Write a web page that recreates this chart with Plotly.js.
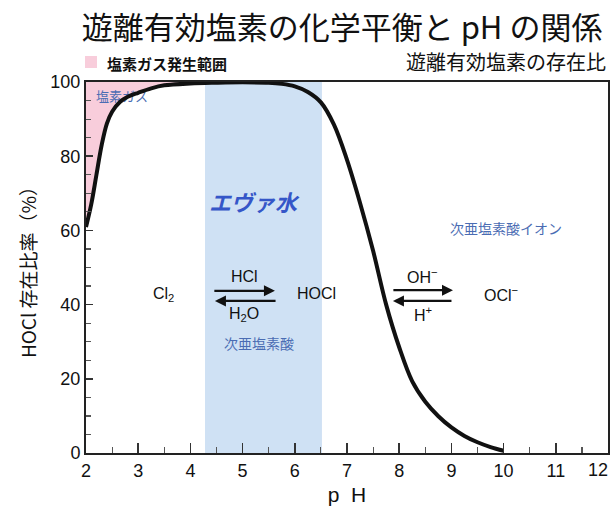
<!DOCTYPE html>
<html>
<head>
<meta charset="utf-8">
<script src="https://cdn.plot.ly/plotly-3.0.1.min.js"></script>
<style>html,body{margin:0;padding:0;background:#fff;}#chart{width:613px;height:518px;}</style>
</head>
<body>
<div id="chart"></div>
<script>
// ---- data ----
const phVals  = [2.0, 2.1, 2.2, 2.3, 2.4, 2.5, 2.65, 2.8, 3.0, 3.25, 3.5, 4.0, 4.5, 5.0, 5.5, 5.75, 6.0, 6.25, 6.5, 6.75, 7.0, 7.25, 7.5, 7.75, 8.0, 8.25, 8.5, 8.75, 9.0, 9.25, 9.5, 9.75, 10.0];
const hoclPct = [60.9, 67.0, 75.0, 83.0, 88.8, 92.0, 94.6, 96.0, 97.1, 98.3, 99.1, 99.6, 99.8, 99.9, 99.8, 99.5, 98.8, 97.3, 94.5, 88.5, 79.0, 67.4, 54.5, 40.0, 28.5, 19.3, 13.8, 9.9, 6.9, 4.6, 2.9, 1.6, 0.6];
const gasEndPh = 4.0;               // chlorine-gas region ends where curve reaches top
const evaBand = [4.28, 6.52];       // エヴァ水 pH band
const xTickVals = [2, 3, 4, 5, 6, 7, 8, 9, 10, 11, 12];
const xTickLabels = ["2", "3", "4", "5", "6", "7", "8", "9", "10", "11", "12"];
const yTickVals = [0, 20, 40, 60, 80, 100];
const yTickLabels = ["0", "20", "40", "60", "80", "100"];

const titleText = "遊離有効塩素の化学平衡と pH の関係";
const subtitleText = "遊離有効塩素の存在比";
const gasLegend = "塩素ガス発生範囲";
const yTitle = "HOCl 存在比率（%）";
const xTitle = "p\u00a0\u00a0H";

const SANS = "'Liberation Sans', Arial, 'Noto Sans CJK JP', sans-serif";
const CJK = "'Noto Sans CJK JP', 'Liberation Sans', sans-serif";
const BLUE = "#4a6cb3";
const PINK = "#f8cddb";

// pink region polygon: from curve up to 100
const pinkX = [], pinkY = [];
for (let i = 0; i < phVals.length; i++) {
  if (phVals[i] <= gasEndPh) { pinkX.push(phVals[i]); pinkY.push(hoclPct[i]); }
}
pinkX.push(pinkX[pinkX.length - 1], phVals[0]);
pinkY.push(100, 100);

const traces = [
  {x: pinkX, y: pinkY, type: 'scatter', mode: 'lines', fill: 'toself',
   fillcolor: PINK, line: {width: 0, shape: 'spline', smoothing: 1}, hoverinfo: 'skip', showlegend: false},
  {x: [2.69], y: [95.7], type: 'scatter', mode: 'text', text: ["塩素ガス"],
   textfont: {family: CJK, size: 13, color: BLUE}, hoverinfo: 'skip', showlegend: false},
  {x: phVals, y: hoclPct, type: 'scatter', mode: 'lines',
   line: {color: '#111', width: 4, shape: 'spline', smoothing: 1},
   hoverinfo: 'skip', showlegend: false}
];

function lbl(x, y, text, size, color, family, extra) {
  return Object.assign({x: x, y: y, xref: 'x', yref: 'y', text: text, showarrow: false,
    font: {size: size, color: color || '#111', family: family || SANS}}, extra || {});
}
function arrow(x0, x1, y) {
  return {x: x1, y: y, ax: x0, ay: y, xref: 'x', yref: 'y', axref: 'x', ayref: 'y',
    text: '', showarrow: true, arrowhead: 2, arrowsize: 1, arrowwidth: 2.2, arrowcolor: '#111'};
}

const annotations = [
  lbl(3.48, 42.6, "Cl<sub>2</sub>", 16),
  lbl(5.03, 47.6, "HCl", 16),
  lbl(5.03, 37.2, "H<sub>2</sub>O", 16),
  lbl(6.41, 43.1, "HOCl", 16),
  lbl(8.44, 47.6, "OH<sup>−</sup>", 16),
  lbl(8.46, 37.6, "H<sup>+</sup>", 16),
  lbl(9.95, 42.9, "OCl<sup>−</sup>", 16),
  arrow(4.43, 5.62, 43.7),
  arrow(5.66, 4.47, 41.0),
  arrow(7.86, 9.03, 43.9),
  arrow(9.03, 7.88, 41.0),
  lbl(5.31, 29.6, "次亜塩素酸", 14, BLUE, CJK),
  lbl(10.05, 60.6, "次亜塩素酸イオン", 14, BLUE, CJK),
  lbl(5.22, 67.9, "<b><i>エヴァ水</i></b>", 22, "#3556c8", CJK),
  // legend for pink region
  {xref: 'paper', yref: 'paper', x: 0.037, y: 1, yshift: 19, xanchor: 'left', yanchor: 'middle',
   text: "<b>" + gasLegend + "</b>", showarrow: false, font: {family: CJK, size: 15, color: '#111'}},
  // subtitle
  {xref: 'paper', yref: 'paper', x: 1, y: 1, yshift: 21, xanchor: 'right', yanchor: 'middle',
   text: subtitleText, showarrow: false, font: {family: CJK, size: 20, color: '#111'}},
  // last x tick label, kept inside the window
  {xref: 'x', yref: 'paper', x: xTickVals[xTickVals.length - 1], y: 0, xanchor: 'right', yanchor: 'top',
   xshift: 2, yshift: -5, text: xTickLabels[xTickLabels.length - 1], showarrow: false,
   font: {family: SANS, size: 18, color: '#111'}}
];

const layout = {
  width: 613, height: 518,
  margin: {l: 86, r: 5, t: 82, b: 65, pad: 0},
  paper_bgcolor: '#fff', plot_bgcolor: '#fff',
  showlegend: false,
  title: {text: titleText, x: 0.558, xanchor: 'center', y: 0.946, yanchor: 'middle',
          xref: 'container', yref: 'container', font: {family: CJK, size: 31, color: '#111'}},
  xaxis: {range: [2, 12], tickmode: 'array', tickvals: xTickVals.slice(0, -1), ticktext: xTickLabels.slice(0, -1),
          ticks: 'inside', ticklen: 10, tickwidth: 1.5, tickcolor: '#333',
          minor: {tickmode: 'linear', tick0: 2, dtick: 0.5, ticks: 'inside', ticklen: 6, tickwidth: 1.2, tickcolor: '#555'},
          showline: true, linecolor: '#222', linewidth: 2, mirror: true, showgrid: false, zeroline: false,
          tickfont: {family: SANS, size: 18, color: '#111'},
          title: {text: xTitle, font: {family: SANS, size: 21, color: '#111'}, standoff: 8}, fixedrange: true},
  yaxis: {range: [0, 100], tickmode: 'array', tickvals: yTickVals, ticktext: yTickLabels,
          ticks: 'inside', ticklen: 7, tickwidth: 1.5, tickcolor: '#333',
          minor: {tickmode: 'linear', tick0: 0, dtick: 5, ticks: 'inside', ticklen: 5, tickwidth: 1.2, tickcolor: '#555'},
          showline: true, linecolor: '#222', linewidth: 2, mirror: true, showgrid: false, zeroline: false,
          tickfont: {family: SANS, size: 18, color: '#111'},
          title: {text: yTitle, font: {family: CJK, size: 19, color: '#111'}, standoff: 9}, fixedrange: true},
  shapes: [
    {type: 'rect', xref: 'x', yref: 'paper', x0: evaBand[0], x1: evaBand[1], y0: 0, y1: 1,
     fillcolor: '#cfe1f4', line: {width: 0}, layer: 'below'},
    {type: 'rect', xref: 'paper', yref: 'paper', xsizemode: 'pixel', ysizemode: 'pixel',
     xanchor: 0, yanchor: 1, x0: -1, x1: 11, y0: 14, y1: 26, fillcolor: PINK, line: {width: 0}}
  ],
  annotations: annotations
};

Plotly.newPlot('chart', traces, layout, {staticPlot: true, displayModeBar: false});
</script>
</body>
</html>
